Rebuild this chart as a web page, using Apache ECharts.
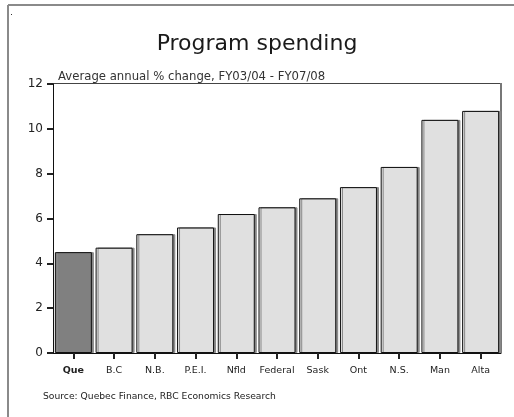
<!DOCTYPE html>
<html>
<head>
<meta charset="utf-8">
<script src="https://cdn.jsdelivr.net/npm/echarts@6/dist/echarts.min.js"></script>
<style>
  html, body { margin: 0; padding: 0; background: #fff; }
  #main { width: 514px; height: 417px; }
</style>
</head>
<body>
<div id="main"></div>
<script>
// data
var categories = ['Que', 'B.C', 'N.B.', 'P.E.I.', 'Nfld', 'Federal', 'Sask', 'Ont', 'N.S.', 'Man', 'Alta'];
var spending = [4.5, 4.7, 5.3, 5.6, 6.2, 6.5, 6.9, 7.4, 8.3, 10.4, 10.8];
var yTicks = [0, 2, 4, 6, 8, 10, 12];

var myChart = echarts.init(document.getElementById('main'));
var font = 'DejaVu Sans';

myChart.setOption({
  animation: false,
  textStyle: { fontFamily: font },
  title: [
    { text: 'Program spending', left: 'center', top: 33, padding: 0,
      textStyle: { fontSize: 22, fontWeight: 'normal', color: '#1a1a1a', fontFamily: font } },
    { text: 'Average annual % change, FY03/04 - FY07/08', left: 58, top: 71, padding: 0,
      textStyle: { fontSize: 11.7, fontWeight: 'normal', color: '#333', fontFamily: font } },
    { text: 'Source: Quebec Finance, RBC Economics Research', left: 43, top: 392, padding: 0,
      textStyle: { fontSize: 9.2, fontWeight: 'normal', color: '#222', fontFamily: font } }
  ],
  grid: { left: 53, right: 13, top: 84, bottom: 64, show: false },
  graphic: [
    // outer frame (top and left)
    { type: 'line', shape: { x1: 8, y1: 5, x2: 514, y2: 5 }, style: { stroke: '#8a8a8a', lineWidth: 2 } },
    { type: 'line', shape: { x1: 8, y1: 5, x2: 8, y2: 417 }, style: { stroke: '#8a8a8a', lineWidth: 2 } },
    { type: 'rect', shape: { x: 11, y: 14, width: 1, height: 1 }, style: { fill: '#333' } },
    // plot area top and right edges
    { type: 'line', shape: { x1: 53, y1: 83.5, x2: 501, y2: 83.5 }, style: { stroke: '#444', lineWidth: 1 } },
    { type: 'line', shape: { x1: 501, y1: 83, x2: 501, y2: 353 }, style: { stroke: '#777', lineWidth: 2 } }
  ],
  xAxis: {
    type: 'category',
    data: categories,
    axisLine: { show: true, lineStyle: { color: '#111', width: 1 } },
    axisTick: { show: true, interval: 0, alignWithLabel: true, length: 6, lineStyle: { color: '#222', width: 2 } },
    axisLabel: {
      interval: 0,
      fontSize: 9.5, color: '#222', margin: 13,
      formatter: function (v) { return v === 'Que' ? '{b|' + v + '}' : v; },
      rich: { b: { fontWeight: 'bold', fontSize: 9.5, color: '#222' } }
    },
    splitLine: { show: false }
  },
  yAxis: {
    type: 'value',
    min: yTicks[0],
    max: yTicks[yTicks.length - 1],
    interval: 2,
    axisLine: { show: true, lineStyle: { color: '#111', width: 1 } },
    axisTick: { show: true, length: 6, lineStyle: { color: '#222', width: 2 } },
    axisLabel: { fontSize: 12, color: '#222', margin: 10 },
    splitLine: { show: false }
  },
  series: [{
    type: 'bar',
    data: spending.map(function (v, i) {
      return { value: v, itemStyle: { color: i === 0 ? '#808080' : '#e0e0e0' } };
    }),
    barWidth: 37,
    itemStyle: {
      borderColor: '#111',
      borderWidth: 1,
      shadowColor: '#888',
      shadowOffsetX: 2,
      shadowOffsetY: 0
    }
  }]
});
</script>
</body>
</html>
